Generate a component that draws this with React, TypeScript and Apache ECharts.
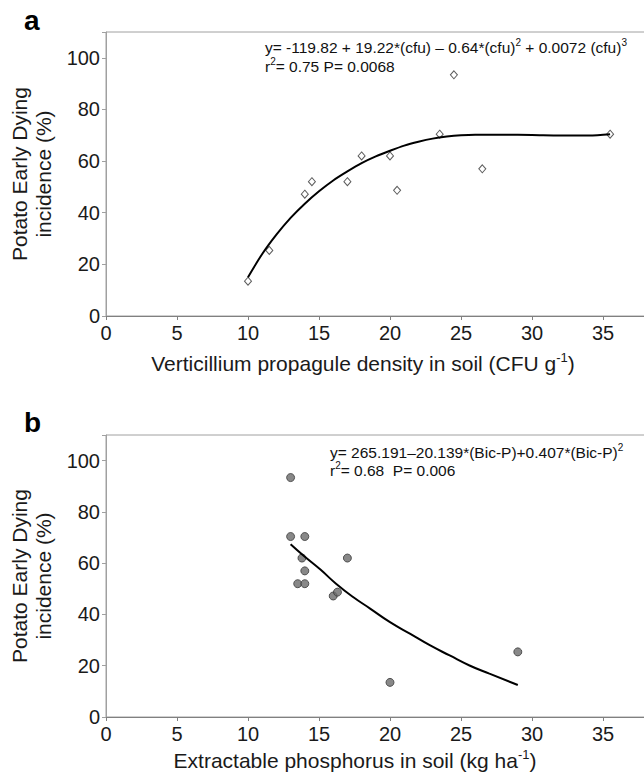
import React, { useEffect, useRef } from "react";
import * as echarts from "echarts";

// Panel a: Verticillium propagule density vs incidence
const cfuX = [10, 11.5, 14, 14.5, 17, 18, 20, 20.5, 23.5, 24.5, 26.5, 35.5];
const cfuY = [13.5, 25.4, 47.2, 52, 52, 62, 62, 48.7, 70.4, 93.4, 57, 70.4];
// fitted curve a
const fitAX = [10, 11, 12, 13, 14, 15, 16, 17, 18, 19, 20, 21, 22, 23, 24, 25, 26, 28, 30, 32, 34, 35.5];
const fitAY = [15, 24, 31.5, 38, 43.5, 48.3, 52.5, 56, 59.2, 61.8, 64, 66, 67.5, 68.7, 69.5, 70, 70.2, 70.2, 70.1, 69.9, 69.9, 70.4];

// Panel b: extractable phosphorus vs incidence
const bicPX = [13, 13, 14, 13.8, 17, 14, 13.5, 14, 16, 16.3, 20, 29];
const bicPY = [93.4, 70.4, 70.4, 62, 62, 57, 52, 52, 47.2, 48.7, 13.5, 25.4];
// fitted curve b
const fitBX = [13, 13.9, 15.1, 16.2, 17.4, 18.6, 20, 21.4, 22.8, 24.2, 25.6, 27, 29];
const fitBY = [67.4, 63, 57.5, 52, 46.8, 42.3, 37, 32.5, 28, 24, 20.1, 16.9, 12.5];

const xTicks = { min: 0, max: 40, interval: 5, lastLabel: 35 };
const yTicks = { min: 0, max: 110, interval: 20, lastLabel: 100 };

const FONT = "'Liberation Sans', Arial, sans-serif";

export default function App() {
  const ref = useRef<HTMLDivElement>(null);
  useEffect(() => {
    if (!ref.current) return;
    const chart = echarts.init(ref.current, null, { renderer: "svg" });
    const pairs = (xs: number[], ys: number[]) => xs.map((x, i) => [x, ys[i]]);

    const mkX = (gridIndex: number) => ({
      type: "value",
      gridIndex,
      min: xTicks.min,
      max: xTicks.max,
      interval: xTicks.interval,
      axisLine: { show: true, lineStyle: { color: "#808080", width: 1 } },
      axisTick: { show: true, inside: false, length: 4, lineStyle: { color: "#808080" } },
      axisLabel: {
        fontSize: 20,
        fontFamily: FONT,
        color: "#1a1a1a",
        margin: 7,
        formatter: (v: number) => (v > xTicks.lastLabel ? "" : String(v)),
      },
      splitLine: { show: false },
    });
    const mkY = (gridIndex: number) => ({
      type: "value",
      gridIndex,
      min: yTicks.min,
      max: yTicks.max,
      interval: yTicks.interval,
      axisLine: { show: true, lineStyle: { color: "#a0a0a0", width: 1 } },
      axisTick: { show: true, inside: false, length: 4, lineStyle: { color: "#a0a0a0" } },
      axisLabel: {
        fontSize: 20,
        fontFamily: FONT,
        color: "#1a1a1a",
        margin: 6,
        formatter: (v: number) => (v > yTicks.lastLabel ? "" : String(v)),
      },
      splitLine: { show: false },
    });

    const rich = {
      n: { fontSize: 15.5, fontFamily: FONT, fill: "#111", color: "#111", lineHeight: 19 },
      s: { fontSize: 10, fontFamily: FONT, fill: "#111", color: "#111", verticalAlign: "top", lineHeight: 19 },
    };
    const nameRich = {
      n: { fontSize: 21, fontFamily: FONT, fill: "#1a1a1a", color: "#1a1a1a", lineHeight: 24 },
      s: { fontSize: 13, fontFamily: FONT, fill: "#1a1a1a", color: "#1a1a1a", verticalAlign: "top", lineHeight: 24 },
    };
    const txt = (x: number, y: number, text: string, r: any, align = "left") => ({
      type: "text",
      x,
      y,
      silent: true,
      style: { text, rich: r, align, textAlign: align, verticalAlign: "middle", textVerticalAlign: "middle" },
    });
    const yName = (y: number) => ({
      type: "text", x: 31, y, rotation: Math.PI / 2, silent: true,
      style: {
        text: "Potato Early Dying\nincidence (%)", fontSize: 21, lineHeight: 24, fontFamily: FONT, fill: "#1a1a1a",
        align: "center", textAlign: "center", verticalAlign: "middle", textVerticalAlign: "middle",
      },
    });

    chart.setOption({
      animation: false,
      backgroundColor: "#ffffff",
      grid: [
        { left: 106, top: 32, width: 568, height: 284, outerBoundsMode: "none", containLabel: false, show: true, borderColor: "#a0a0a0", borderWidth: 1, backgroundColor: "transparent" },
        { left: 106, top: 435, width: 568, height: 282, outerBoundsMode: "none", containLabel: false, show: true, borderColor: "#a0a0a0", borderWidth: 1, backgroundColor: "transparent" },
      ],
      xAxis: [mkX(0), mkX(1)],
      yAxis: [mkY(0), mkY(1)],
      series: [
        {
          type: "scatter",
          xAxisIndex: 0,
          yAxisIndex: 0,
          symbol: "diamond",
          symbolSize: [7, 8],
          itemStyle: { color: "#ffffff", borderColor: "#333", borderWidth: 1 },
          data: pairs(cfuX, cfuY),
          z: 2,
        },
        {
          type: "line",
          xAxisIndex: 0,
          yAxisIndex: 0,
          smooth: 0.3,
          symbol: "none",
          lineStyle: { color: "#000", width: 2 },
          data: pairs(fitAX, fitAY),
          z: 3,
        },
        {
          type: "scatter",
          xAxisIndex: 1,
          yAxisIndex: 1,
          symbol: "circle",
          symbolSize: 8,
          itemStyle: { color: "#6a6a6a", borderColor: "#3a3a3a", borderWidth: 1 },
          data: pairs(bicPX, bicPY),
          z: 2,
        },
        {
          type: "line",
          xAxisIndex: 1,
          yAxisIndex: 1,
          smooth: 0.5,
          symbol: "none",
          lineStyle: { color: "#000", width: 2 },
          data: pairs(fitBX, fitBY),
          z: 3,
        },
      ],
      graphic: [
        { type: "text", x: 24, y: 20, silent: true, style: { text: "a", fontSize: 28, fontWeight: "bold", fontFamily: FONT, fill: "#000", verticalAlign: "middle", textVerticalAlign: "middle" } },
        { type: "text", x: 24, y: 422, silent: true, style: { text: "b", fontSize: 28, fontWeight: "bold", fontFamily: FONT, fill: "#000", verticalAlign: "middle", textVerticalAlign: "middle" } },
        txt(265, 47, "{n|y= -119.82 + 19.22*(cfu) – 0.64*(cfu)}{s|2}{n| + 0.0072 (cfu)}{s|3}", rich),
        txt(265, 66, "{n|r}{s|2}{n|= 0.75 P= 0.0068}", rich),
        txt(330, 452, "{n|y= 265.191–20.139*(Bic-P)+0.407*(Bic-P)}{s|2}", rich),
        txt(330, 470, "{n|r}{s|2}{n|= 0.68  P= 0.006}", rich),
        txt(363, 363, "{n|Verticillium propagule density in soil (CFU g}{s|-1}{n|)}", nameRich, "center"),
        txt(355, 760, "{n|Extractable phosphorus in soil (kg ha}{s|-1}{n|)}", nameRich, "center"),
        yName(174),
        yName(576),
      ],
    });
    return () => chart.dispose();
  }, []);
  return <div ref={ref} style={{ position: "absolute", left: 0, top: 0, width: 644, height: 774 }} />;
}
